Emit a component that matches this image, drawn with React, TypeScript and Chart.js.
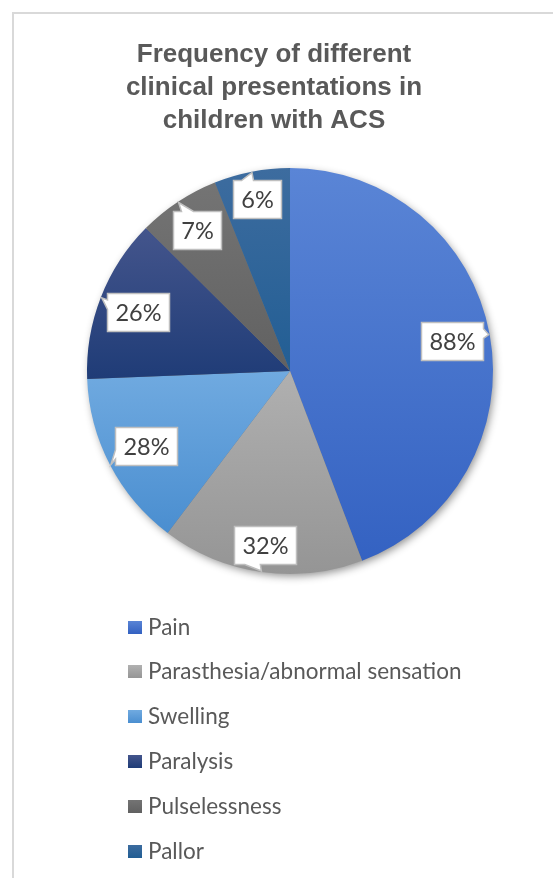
import React, { useEffect, useRef } from "react";
import { Chart, registerables } from "chart.js";

Chart.register(...registerables);

// ---- data ----
const categories = [
  "Pain",
  "Parasthesia/abnormal sensation",
  "Swelling",
  "Paralysis",
  "Pulselessness",
  "Pallor",
];
const sliceValues = [88, 32, 28, 26, 13, 12];
const labelTexts = ["88%", "32%", "28%", "26%", "7%", "6%"];
const titleLines = [
  "Frequency of different",
  "clinical presentations in",
  "children with ACS",
];

// ---- styles ----
const topColors = ["#5a85d6", "#b0b0b0", "#70aae0", "#44558c", "#747474", "#3d6c9f"];
const bottomColors = ["#3462c2", "#959595", "#4a8ed0", "#1f3c77", "#616161", "#225e94"];
const TEXT_GREY = "#595959";
const LABEL_FONT = '23.5px Lato, "Open Sans", sans-serif';
const LEGEND_FONT = '22.5px Lato, "Open Sans", sans-serif';
const TITLE_FONT = 'bold 26px "Liberation Sans", Arial, sans-serif';

function sliceGradient(c: any) {
  const chart = c.chart;
  const area = chart.chartArea;
  const i = c.dataIndex;
  if (!area || i === undefined) return topColors[i ?? 0];
  const data = chart.data.datasets[0].data as number[];
  const total = data.reduce((a: number, b: number) => a + b, 0);
  let before = 0;
  for (let k = 0; k < i; k++) before += data[k];
  const a0 = -Math.PI / 2 + (before / total) * 2 * Math.PI;
  const a1 = a0 + (data[i] / total) * 2 * Math.PI;
  const cy = (area.top + area.bottom) / 2;
  const r = Math.min(area.width, area.height) / 2;
  const ys = [cy, cy + r * Math.sin(a0), cy + r * Math.sin(a1)];
  for (const ang of [-Math.PI / 2, Math.PI / 2, (3 * Math.PI) / 2]) {
    if (ang >= a0 && ang <= a1) ys.push(cy + r * Math.sin(ang));
  }
  const y0 = Math.min(...ys);
  const y1 = Math.max(...ys);
  const g = chart.ctx.createLinearGradient(0, y0, 0, y1 + 0.01);
  g.addColorStop(0, topColors[i]);
  g.addColorStop(1, bottomColors[i]);
  return g;
}

function calloutPath(
  ctx: CanvasRenderingContext2D,
  l: number,
  t: number,
  w: number,
  h: number,
  tx: number,
  ty: number
) {
  const cx = l + w / 2;
  const cy = t + h / 2;
  const dx = tx - cx;
  const dy = ty - cy;
  const dq = (dx * h) / w;
  const vertical = Math.abs(dy) - Math.abs(dq) > 0;
  const r = l + w;
  const b = t + h;
  const x1 = l + (w * (dx > 0 ? 7 : 2)) / 12;
  const x2 = l + (w * (dx > 0 ? 10 : 5)) / 12;
  const y1 = t + (h * (dy > 0 ? 7 : 2)) / 12;
  const y2 = t + (h * (dy > 0 ? 10 : 5)) / 12;
  ctx.beginPath();
  ctx.moveTo(l, t);
  if (vertical && dy < 0) {
    ctx.lineTo(x1, t);
    ctx.lineTo(tx, ty);
    ctx.lineTo(x2, t);
  }
  ctx.lineTo(r, t);
  if (!vertical && dx > 0) {
    ctx.lineTo(r, y1);
    ctx.lineTo(tx, ty);
    ctx.lineTo(r, y2);
  }
  ctx.lineTo(r, b);
  if (vertical && dy > 0) {
    ctx.lineTo(x2, b);
    ctx.lineTo(tx, ty);
    ctx.lineTo(x1, b);
  }
  ctx.lineTo(l, b);
  if (!vertical && dx < 0) {
    ctx.lineTo(l, y2);
    ctx.lineTo(tx, ty);
    ctx.lineTo(l, y1);
  }
  ctx.closePath();
}

const decorPlugin = {
  id: "decor",
  beforeDraw(chart: any) {
    const ctx = chart.ctx as CanvasRenderingContext2D;
    ctx.save();
    ctx.strokeStyle = "#d9d9d9";
    ctx.lineWidth = 2;
    ctx.beginPath();
    ctx.moveTo(13, chart.height);
    ctx.lineTo(13, 13);
    ctx.lineTo(chart.width, 13);
    ctx.stroke();
    ctx.restore();
  },
  beforeDatasetsDraw(chart: any) {
    const ctx = chart.ctx as CanvasRenderingContext2D;
    const arc = chart.getDatasetMeta(0).data[0];
    if (!arc) return;
    const { x, y, outerRadius } = arc.getProps(["x", "y", "outerRadius"], true);
    ctx.save();
    ctx.shadowColor = "rgba(0,0,0,0.45)";
    ctx.shadowBlur = 9;
    ctx.shadowOffsetX = 2;
    ctx.shadowOffsetY = 3;
    ctx.fillStyle = "#777";
    ctx.beginPath();
    ctx.arc(x, y, outerRadius - 1, 0, Math.PI * 2);
    ctx.fill();
    ctx.restore();
  },
  afterDraw(chart: any) {
    const ctx = chart.ctx as CanvasRenderingContext2D;
    const area = chart.chartArea;
    ctx.save();

    // title
    ctx.font = TITLE_FONT;
    ctx.fillStyle = TEXT_GREY;
    ctx.textAlign = "center";
    ctx.textBaseline = "alphabetic";
    titleLines.forEach((line, i) => {
      ctx.fillText(line, 274, 62 + i * 33);
    });

    // data labels (callouts)
    const meta = chart.getDatasetMeta(0);
    ctx.font = LABEL_FONT;
    meta.data.forEach((arc: any, i: number) => {
      const { x, y, startAngle, endAngle, outerRadius } = arc.getProps(
        ["x", "y", "startAngle", "endAngle", "outerRadius"],
        true
      );
      const mid = (startAngle + endAngle) / 2;
      const ux = Math.cos(mid);
      const uy = Math.sin(mid);
      const text = labelTexts[i];
      const tw = ctx.measureText(text).width;
      const w = Math.round(tw + 16);
      const h = 38;
      const support = Math.abs(ux) * (w / 2) + Math.abs(uy) * (h / 2);
      const dist = outerRadius - support - 4.5;
      const cx = x + ux * dist;
      const cy = y + uy * dist;
      const tx = x + ux * (outerRadius - 1);
      const ty = y + uy * (outerRadius - 1);
      const l = Math.round(cx - w / 2) + 0.5;
      const t = Math.round(cy - h / 2) + 0.5;
      calloutPath(ctx, l, t, w, h, tx, ty);
      ctx.fillStyle = "#ffffff";
      ctx.fill();
      ctx.strokeStyle = "#bfbfbf";
      ctx.lineWidth = 1.5;
      ctx.lineJoin = "miter";
      ctx.stroke();
      ctx.fillStyle = "#404040";
      ctx.textAlign = "center";
      ctx.textBaseline = "middle";
      ctx.fillText(text, l + w / 2, t + h / 2 + 1);
    });

    // legend
    ctx.font = LEGEND_FONT;
    ctx.textAlign = "left";
    ctx.textBaseline = "alphabetic";
    const legendTop = area.bottom + 53;
    categories.forEach((name, i) => {
      const my = legendTop + i * 44.8;
      const g = ctx.createLinearGradient(0, my - 6.5, 0, my + 6.5);
      g.addColorStop(0, topColors[i]);
      g.addColorStop(1, bottomColors[i]);
      ctx.fillStyle = g;
      ctx.fillRect(128, Math.round(my - 6.5), 14, 13);
      ctx.fillStyle = TEXT_GREY;
      ctx.fillText(name, 148, my + 7.5);
    });

    ctx.restore();
  },
};

export default function App() {
  const ref = useRef<HTMLCanvasElement>(null);
  useEffect(() => {
    const canvas = ref.current;
    if (!canvas) return;
    const chart = new Chart(canvas, {
      type: "pie",
      data: {
        labels: categories,
        datasets: [
          {
            data: sliceValues,
            backgroundColor: sliceGradient as any,
            borderWidth: 0,
            hoverOffset: 0,
          },
        ],
      },
      options: {
        responsive: false,
        maintainAspectRatio: false,
        animation: false,
        devicePixelRatio: 1,
        events: [],
        layout: { padding: { left: 87, right: 60, top: 168, bottom: 304 } },
        plugins: {
          legend: { display: false },
          title: { display: false },
          tooltip: { enabled: false },
        },
      },
      plugins: [decorPlugin as any],
    });
    return () => chart.destroy();
  }, []);
  return (
    <div
      style={{
        position: "absolute",
        left: 0,
        top: 0,
        width: 553,
        height: 878,
        background: "#ffffff",
      }}
    >
      <canvas
        ref={ref}
        width={553}
        height={878}
        style={{ display: "block", width: 553, height: 878 }}
      />
    </div>
  );
}
